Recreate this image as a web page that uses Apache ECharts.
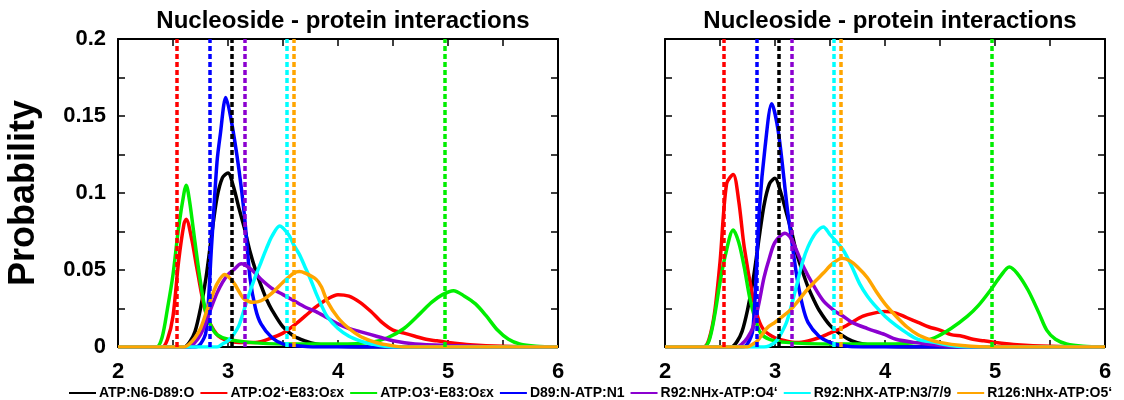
<!DOCTYPE html>
<html>
<head>
<meta charset="utf-8">
<title>Nucleoside - protein interactions</title>
<script src="https://cdn.jsdelivr.net/npm/echarts@6/dist/echarts.min.js"></script>
<style>
  html, body { margin: 0; padding: 0; background: #fff; }
  #chart { width: 1124px; height: 400px; }
</style>
</head>
<body>
<div id="chart"></div>
<script>
// legend names / colours
var names = ['ATP:N6-D89:O', 'ATP:O2\u2018-E83:O\u03b5x', 'ATP:O3\u2018-E83:O\u03b5x', 'D89:N-ATP:N1',
  'R92:NHx-ATP:O4\u2018', 'R92:NHX-ATP:N3/7/9', 'R126:NHx-ATP:O5\u2018'];
var colors = ['#000000', '#ff0000', '#00ee00', '#0000ff', '#8b00d0', '#00ffff', '#ffa500'];

// dashed reference distances (same order as names)
var leftRef = [3.03, 2.53, 4.97, 2.83, 3.15, 3.53, 3.6];
var rightRef = [3.03, 2.53, 4.97, 2.83, 3.15, 3.53, 3.6];

// left panel distributions [distance, probability]
var leftBlack = [[2,0],[2.6,0],[2.65,0.003],[2.7,0.01],[2.75,0.025],[2.8,0.045],[2.85,0.072],[2.9,0.097],[2.95,0.11],[3.0,0.113],[3.05,0.104],[3.1,0.09],[3.15,0.077],[3.2,0.062],[3.25,0.05],[3.3,0.04],[3.35,0.031],[3.4,0.024],[3.5,0.013],[3.6,0.007],[3.7,0.004],[3.8,0.002],[4.0,0.0005],[4.2,0],[6,0]];
var leftRed = [[2,0],[2.4,0],[2.45,0.005],[2.5,0.02],[2.55,0.055],[2.6,0.08],[2.62,0.083],[2.67,0.07],[2.72,0.05],[2.8,0.022],[2.9,0.008],[3.0,0.004],[3.1,0.003],[3.25,0.003],[3.4,0.006],[3.5,0.009],[3.6,0.014],[3.7,0.02],[3.8,0.026],[3.9,0.031],[4.0,0.034],[4.1,0.033],[4.2,0.029],[4.3,0.023],[4.4,0.016],[4.5,0.011],[4.6,0.009],[4.7,0.007],[4.8,0.005],[4.9,0.004],[5.0,0.003],[5.2,0.0015],[5.5,0.0005],[6,0]];
var leftGreen = [[2,0],[2.35,0],[2.4,0.006],[2.45,0.025],[2.5,0.047],[2.55,0.077],[2.6,0.1],[2.62,0.105],[2.65,0.095],[2.7,0.068],[2.75,0.042],[2.8,0.022],[2.85,0.013],[2.9,0.008],[3.0,0.005],[3.2,0.003],[3.5,0.002],[4.0,0.002],[4.3,0.003],[4.45,0.006],[4.6,0.012],[4.75,0.022],[4.85,0.029],[4.95,0.034],[5.05,0.0366],[5.15,0.033],[5.25,0.028],[5.35,0.02],[5.45,0.011],[5.55,0.005],[5.65,0.002],[5.8,0.0005],[6,0]];
var leftBlue = [[2,0],[2.7,0],[2.75,0.002],[2.8,0.01],[2.85,0.065],[2.9,0.12],[2.93,0.138],[2.98,0.162],[3.03,0.147],[3.1,0.115],[3.15,0.085],[3.2,0.045],[3.25,0.025],[3.3,0.015],[3.4,0.006],[3.5,0.002],[3.6,0.001],[3.8,0],[6,0]];
var leftPurple = [[2,0],[2.65,0],[2.7,0.003],[2.75,0.008],[2.8,0.016],[2.85,0.026],[2.9,0.035],[2.95,0.042],[3.0,0.047],[3.05,0.05],[3.12,0.054],[3.2,0.051],[3.3,0.044],[3.4,0.038],[3.5,0.034],[3.6,0.03],[3.7,0.026],[3.8,0.023],[3.9,0.019],[4.0,0.015],[4.1,0.012],[4.2,0.01],[4.3,0.008],[4.4,0.006],[4.5,0.004],[4.7,0.002],[5.0,0.001],[5.5,0],[6,0]];
var leftCyan = [[2,0],[2.9,0],[2.95,0.002],[3.0,0.004],[3.05,0.008],[3.1,0.014],[3.15,0.025],[3.2,0.036],[3.25,0.046],[3.3,0.055],[3.35,0.064],[3.4,0.072],[3.47,0.0786],[3.55,0.073],[3.6,0.066],[3.65,0.06],[3.7,0.052],[3.75,0.044],[3.8,0.035],[3.85,0.027],[3.9,0.02],[4.0,0.012],[4.1,0.007],[4.2,0.004],[4.3,0.002],[4.5,0],[6,0]];
var leftOrange = [[2,0],[2.6,0],[2.65,0.002],[2.7,0.006],[2.75,0.012],[2.8,0.022],[2.85,0.032],[2.9,0.041],[2.97,0.047],[3.05,0.042],[3.1,0.036],[3.15,0.031],[3.23,0.029],[3.3,0.03],[3.4,0.035],[3.5,0.042],[3.6,0.048],[3.65,0.049],[3.7,0.048],[3.8,0.044],[3.85,0.039],[3.9,0.03],[4.0,0.019],[4.1,0.012],[4.2,0.007],[4.3,0.004],[4.4,0.002],[4.6,0],[6,0]];

// right panel distributions
var rightBlack = [[2,0],[2.6,0],[2.65,0.003],[2.7,0.01],[2.75,0.024],[2.8,0.043],[2.85,0.068],[2.9,0.092],[2.95,0.106],[3.0,0.1095],[3.05,0.101],[3.1,0.088],[3.15,0.075],[3.2,0.06],[3.25,0.049],[3.3,0.039],[3.35,0.031],[3.4,0.024],[3.5,0.014],[3.6,0.008],[3.7,0.004],[3.8,0.002],[4.0,0.0005],[4.2,0],[6,0]];
var rightRed = [[2,0],[2.35,0],[2.4,0.005],[2.45,0.022],[2.5,0.055],[2.56,0.106],[2.62,0.112],[2.67,0.095],[2.72,0.065],[2.8,0.032],[2.85,0.018],[2.9,0.011],[3.0,0.006],[3.1,0.004],[3.2,0.003],[3.3,0.004],[3.4,0.006],[3.5,0.009],[3.6,0.012],[3.7,0.016],[3.8,0.02],[3.9,0.022],[4.0,0.023],[4.1,0.022],[4.2,0.019],[4.3,0.016],[4.4,0.013],[4.5,0.011],[4.6,0.008],[4.7,0.007],[4.8,0.005],[4.9,0.004],[5.0,0.003],[5.2,0.0015],[5.5,0.0005],[6,0]];
var rightGreen = [[2,0],[2.35,0],[2.4,0.004],[2.45,0.02],[2.5,0.042],[2.55,0.06],[2.62,0.076],[2.67,0.068],[2.72,0.052],[2.77,0.032],[2.82,0.018],[2.87,0.009],[2.95,0.005],[3.1,0.003],[3.5,0.002],[4.0,0.002],[4.3,0.003],[4.45,0.006],[4.6,0.012],[4.75,0.02],[4.85,0.027],[4.95,0.036],[5.05,0.046],[5.13,0.052],[5.2,0.048],[5.3,0.037],[5.4,0.022],[5.47,0.011],[5.55,0.005],[5.65,0.002],[5.8,0.0005],[6,0]];
var rightBlue = [[2,0],[2.7,0],[2.75,0.002],[2.8,0.012],[2.86,0.091],[2.91,0.13],[2.97,0.158],[3.03,0.14],[3.11,0.091],[3.15,0.07],[3.2,0.045],[3.25,0.027],[3.3,0.016],[3.4,0.007],[3.5,0.003],[3.6,0.001],[3.8,0],[6,0]];
var rightPurple = [[2,0],[2.65,0],[2.7,0.002],[2.75,0.006],[2.8,0.013],[2.85,0.027],[2.9,0.045],[2.95,0.058],[3.0,0.068],[3.09,0.0738],[3.15,0.07],[3.2,0.062],[3.26,0.052],[3.35,0.04],[3.44,0.03],[3.55,0.023],[3.62,0.02],[3.7,0.016],[3.84,0.012],[4.0,0.008],[4.1,0.005],[4.26,0.003],[4.5,0.001],[4.8,0],[6,0]];
var rightCyan = [[2,0],[2.9,0],[3.0,0.003],[3.05,0.008],[3.11,0.017],[3.2,0.041],[3.25,0.055],[3.3,0.065],[3.37,0.074],[3.44,0.078],[3.5,0.073],[3.55,0.069],[3.62,0.063],[3.7,0.052],[3.77,0.041],[3.84,0.033],[3.92,0.026],[4.0,0.02],[4.1,0.014],[4.2,0.009],[4.3,0.005],[4.45,0.003],[4.6,0.001],[4.8,0],[6,0]];
var rightOrange = [[2,0],[2.75,0],[2.8,0.002],[2.84,0.004],[2.93,0.0125],[3.0,0.016],[3.14,0.024],[3.2,0.029],[3.29,0.037],[3.37,0.043],[3.44,0.048],[3.52,0.054],[3.61,0.0576],[3.68,0.056],[3.75,0.052],[3.84,0.045],[3.92,0.036],[4.0,0.028],[4.1,0.02],[4.2,0.013],[4.3,0.008],[4.4,0.005],[4.5,0.003],[4.7,0.001],[5.0,0],[6,0]];

var leftSets = [leftBlack, leftRed, leftGreen, leftBlue, leftPurple, leftCyan, leftOrange];
var rightSets = [rightBlack, rightRed, rightGreen, rightBlue, rightPurple, rightCyan, rightOrange];

var titleText = 'Nucleoside - protein interactions';
var font = "'Liberation Sans', Arial, sans-serif";

var chart = echarts.init(document.getElementById('chart'));

function xAx(grid, pos) {
  return {
    type: 'value', gridIndex: grid, position: pos, min: 2, max: 6, interval: 0.5,
    axisLine: { show: true, onZero: false, lineStyle: { color: '#000', width: 2 } },
    axisTick: { show: true, inside: true, length: 7, lineStyle: { color: '#000', width: 1.5 } },
    axisLabel: {
      show: pos === 'bottom', margin: 14, color: '#000', fontSize: 22, fontWeight: 'bold', fontFamily: font,
      formatter: function (v) { return Math.abs(v - Math.round(v)) < 1e-6 ? String(Math.round(v)) : ''; }
    },
    splitLine: { show: false }
  };
}

function yAx(grid, pos, labels) {
  var ax = {
    type: 'value', gridIndex: grid, position: pos, min: 0, max: 0.2, interval: 0.025,
    axisLine: { show: true, onZero: false, lineStyle: { color: '#000', width: 2 } },
    axisTick: { show: true, inside: true, length: 7, lineStyle: { color: '#000', width: 1.5 } },
    axisLabel: {
      show: labels, margin: 12, color: '#000', fontSize: 22, fontWeight: 'bold', fontFamily: font,
      formatter: function (v) {
        var k = v / 0.05;
        return Math.abs(k - Math.round(k)) < 1e-6 ? String(+v.toFixed(3)) : '';
      }
    },
    splitLine: { show: false }
  };
  if (labels) {
    ax.name = 'Probability';
    ax.nameLocation = 'middle';
    ax.nameGap = 76;
    ax.nameTextStyle = { color: '#000', fontSize: 36, fontWeight: 'bold', fontFamily: font };
  }
  return ax;
}

var series = [];
function addPanel(sets, refs, xi, yi) {
  sets.forEach(function (d, i) {
    series.push({
      name: names[i], type: 'line', xAxisIndex: xi, yAxisIndex: yi, data: d,
      showSymbol: false, symbol: 'none', smooth: 0.3,
      lineStyle: { color: colors[i], width: 3.5, join: 'round' }, itemStyle: { color: colors[i] },
      silent: true, z: 2
    });
  });
  // dashed verticals on top of the curves
  series.push({
    name: 'ref', type: 'line', xAxisIndex: xi, yAxisIndex: yi, data: [[2, 0]],
    showSymbol: false, symbol: 'none', lineStyle: { opacity: 0 }, silent: true, z: 4,
    markLine: {
      silent: true, symbol: ['none', 'none'], label: { show: false },
      lineStyle: { type: [5, 3], width: 3.5 },
      data: refs.map(function (v, i) { return { xAxis: v, lineStyle: { color: colors[i], type: [5, 3], width: 3.5 } }; })
    }
  });
}
addPanel(leftSets, leftRef, 0, 0);
addPanel(rightSets, rightRef, 2, 2);

var option = {
  animation: false,
  backgroundColor: '#fff',
  title: [
    { text: titleText, left: 338, top: 4, textAlign: 'center',
      textStyle: { color: '#000', fontSize: 24, fontWeight: 'bold', fontFamily: font } },
    { text: titleText, left: 885, top: 4, textAlign: 'center',
      textStyle: { color: '#000', fontSize: 24, fontWeight: 'bold', fontFamily: font } }
  ],
  legend: {
    data: names, left: 64, top: 381, width: 1080, itemWidth: 27, itemHeight: 12, itemGap: 6,
    icon: 'path://M0,0 L27,0 L27,2 L0,2 Z',
    textStyle: { color: '#000', fontSize: 14, fontWeight: 'bold', fontFamily: font, padding: [0, 0, 0, -2] }
  },
  grid: [
    { left: 118, right: 566, top: 39, bottom: 53 },
    { left: 665, right: 19, top: 39, bottom: 53 }
  ],
  xAxis: [xAx(0, 'bottom'), xAx(0, 'top'), xAx(1, 'bottom'), xAx(1, 'top')],
  yAxis: [yAx(0, 'left', true), yAx(0, 'right', false), yAx(1, 'left', false), yAx(1, 'right', false)],
  series: series
};

chart.setOption(option);
</script>
</body>
</html>
